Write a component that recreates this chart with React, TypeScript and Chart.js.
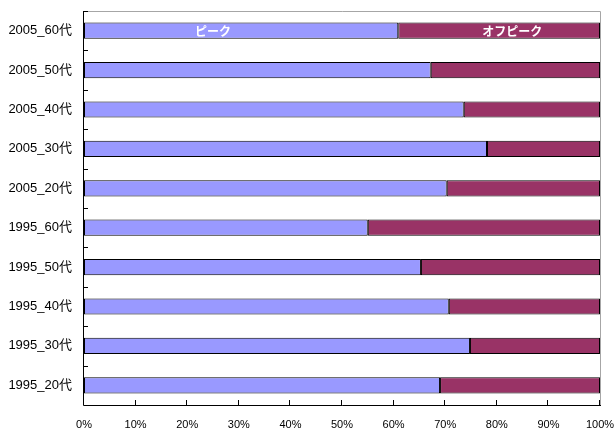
import React, { useEffect, useRef } from "react";
import { Chart, registerables } from "chart.js";

Chart.register(...registerables);

const categories = [
  "2005_60代",
  "2005_50代",
  "2005_40代",
  "2005_30代",
  "2005_20代",
  "1995_60代",
  "1995_50代",
  "1995_40代",
  "1995_30代",
  "1995_20代",
];
const peakValues = [60.9, 67.2, 73.6, 78.1, 70.3, 55.0, 65.3, 70.7, 74.8, 69.0];
const offPeakValues = [39.1, 32.8, 26.4, 21.9, 29.7, 45.0, 34.7, 29.3, 25.2, 31.0];
const seriesNames = ["ピーク", "オフピーク"];
const xTicks = [0, 10, 20, 30, 40, 50, 60, 70, 80, 90, 100];
// data-label anchor positions (x-axis values) on the first bar
const labelAnchors = [25, 83];

const framePlugin = {
  id: "frame",
  afterDatasetsDraw(chart: any) {
    const { ctx, chartArea } = chart;
    const { left, right, top, bottom } = chartArea;
    const xs = chart.scales.x;
    const n = categories.length;
    ctx.save();
    ctx.strokeStyle = "#a6a6a6";
    ctx.lineWidth = 1;
    ctx.beginPath();
    ctx.moveTo(left, top + 0.5);
    ctx.lineTo(right + 0.5, top + 0.5);
    ctx.lineTo(right + 0.5, bottom);
    ctx.stroke();
    ctx.strokeStyle = "#000";
    ctx.beginPath();
    ctx.moveTo(left - 0.5, top);
    ctx.lineTo(left - 0.5, bottom + 0.5);
    ctx.lineTo(right + 1, bottom + 0.5);
    ctx.stroke();
    ctx.beginPath();
    for (let i = 0; i <= n; i++) {
      const y = Math.round(top + (i * (bottom - top)) / n) + 0.5;
      ctx.moveTo(left, y);
      ctx.lineTo(left + 4, y);
    }
    xTicks.forEach((v) => {
      const x = Math.round(xs.getPixelForValue(v)) - 0.5;
      ctx.moveTo(x, bottom);
      ctx.lineTo(x, bottom - 5);
    });
    ctx.stroke();
    const ys = chart.scales.y;
    const yc = ys.getPixelForValue(0);
    ctx.fillStyle = "#fff";
    ctx.font = "bold 12px 'Noto Sans CJK JP', sans-serif";
    ctx.textAlign = "center";
    ctx.textBaseline = "middle";
    seriesNames.forEach((name, i) => {
      ctx.fillText(name, xs.getPixelForValue(labelAnchors[i]), yc + 1);
    });
    ctx.restore();
  },
};

export default function App() {
  const ref = useRef<HTMLCanvasElement>(null);
  useEffect(() => {
    if (!ref.current) return;
    const chart = new Chart(ref.current, {
      type: "bar",
      data: {
        labels: categories,
        datasets: [
          {
            label: seriesNames[0],
            data: peakValues,
            backgroundColor: "#9999FF",
            borderColor: "#000",
            borderWidth: 1,
            borderSkipped: false,
            categoryPercentage: 1,
            barPercentage: 0.41,
          },
          {
            label: seriesNames[1],
            data: offPeakValues,
            backgroundColor: "#993366",
            borderColor: "#000",
            borderWidth: 1,
            borderSkipped: false,
            categoryPercentage: 1,
            barPercentage: 0.41,
          },
        ],
      },
      options: {
        indexAxis: "y",
        animation: false,
        responsive: true,
        maintainAspectRatio: false,
        layout: { padding: { top: 11, right: 14, left: 0, bottom: 0 } },
        plugins: {
          legend: { display: false },
          tooltip: { enabled: false },
        },
        scales: {
          x: {
            stacked: true,
            min: 0,
            max: 100,
            afterFit: (s: any) => {
              s.height = 29;
              s.paddingLeft = 0;
              s.paddingRight = 0;
            },
            afterBuildTicks: (s: any) => {
              s.ticks = xTicks.map((v) => ({ value: v }));
            },
            grid: { display: false, drawTicks: false },
            border: { display: false },
            ticks: {
              padding: 13,
              color: "#000",
              font: { family: "'Liberation Sans', Arial, sans-serif", size: 11 },
              callback: (v: any) => v + "%",
              maxRotation: 0,
            },
          },
          y: {
            stacked: true,
            afterFit: (s: any) => {
              s.width = 84;
              s.paddingTop = 0;
              s.paddingBottom = 0;
            },
            grid: { display: false, drawTicks: false },
            border: { display: false },
            ticks: {
              padding: 12,
              color: "#000",
              font: { family: "'Liberation Sans', 'Noto Sans CJK JP', sans-serif", size: 13 },
            },
          },
        },
      },
      plugins: [framePlugin],
    });
    return () => chart.destroy();
  }, []);
  return (
    <div style={{ position: "fixed", left: 0, top: 0, width: 614, height: 434, background: "#fff" }}>
      <canvas ref={ref} />
    </div>
  );
}
